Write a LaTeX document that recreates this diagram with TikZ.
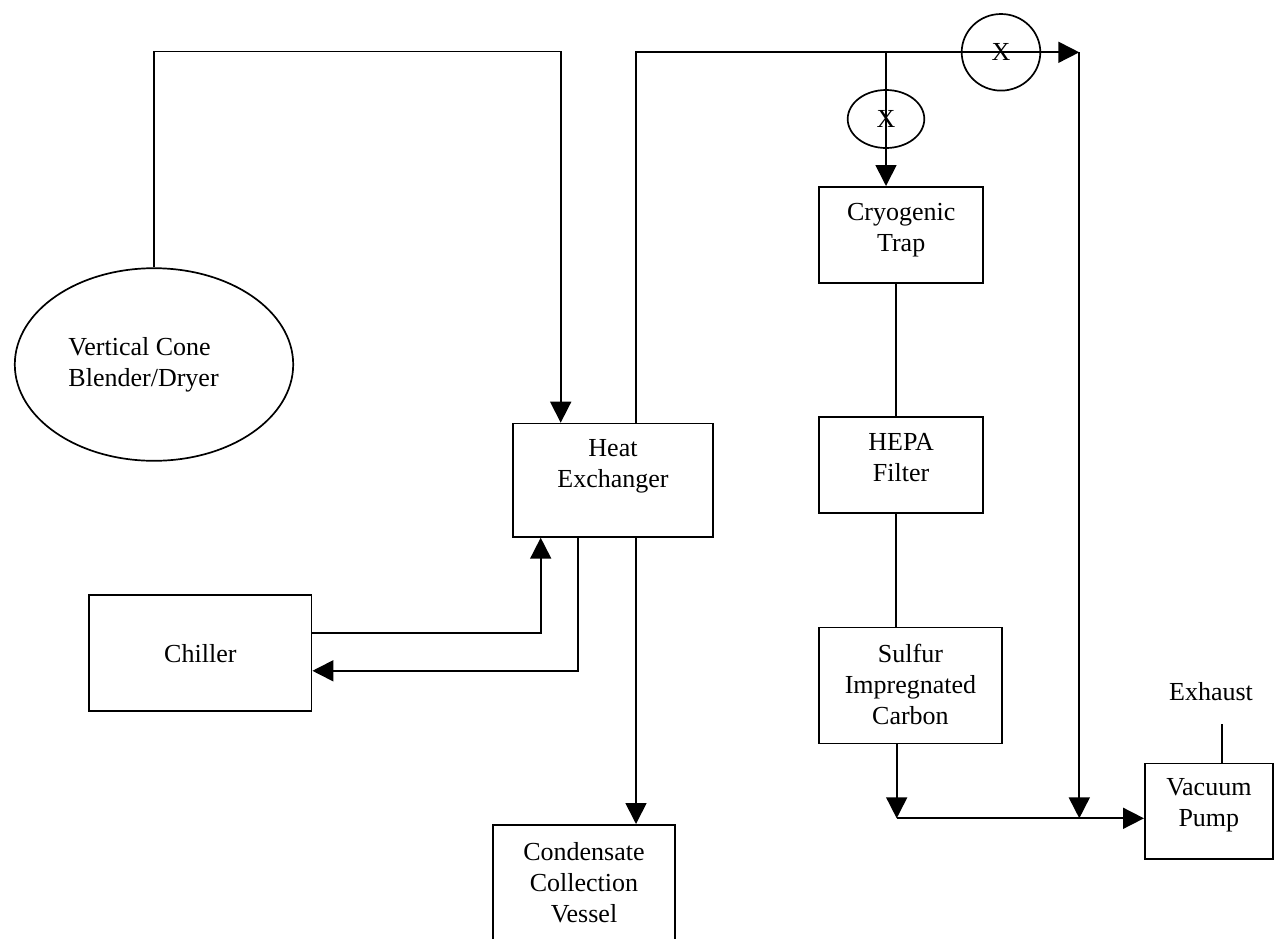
\documentclass[tikz,border=0pt]{standalone}
\usepackage{fontspec}
\setmainfont{Liberation Serif}
\usetikzlibrary{arrows.meta,shapes.geometric}
\begin{document}
\begin{tikzpicture}[x=0.5pt,y=-0.5pt,line width=0.85pt,
  font=\fontsize{13}{15.5}\selectfont,
  >={Triangle[length=10.5pt,width=10.5pt]},
  unit/.style={draw,inner sep=0pt,anchor=north west,align=center},
  valve/.style={draw,ellipse,inner sep=0pt}]% px grid, y down
\useasboundingbox (0,0) rectangle (1275,938);
\node[draw,ellipse,inner sep=0pt,align=flush left,text width=85.5pt,minimum width=139.2pt,minimum height=96.3pt]
  (blender) at (154,364.5) {Vertical Cone\\Blender/Dryer};
\node[unit,text width=100.15pt,text height=16.65pt,text depth=40pt] (hx) at (512,422.7) {Heat\\Exchanger};
\node[unit,text width=111.2pt,text height=33.7pt,text depth=24.15pt] (chiller) at (88.3,594.3) {Chiller};
\node[unit,text width=91.15pt,text height=18pt,text depth=50pt] (cond) at (492,824) {Condensate\\Collection\\Vessel};
\node[unit,text width=82pt,text height=17pt,text depth=31.15pt] (cryo) at (818.3,186) {Cryogenic\\Trap};
\node[unit,text width=82pt,text height=17pt,text depth=31.15pt] (hepa) at (818.3,416) {HEPA\\Filter};
\node[unit,text width=91.3pt,text height=17.5pt,text depth=40.5pt] (carbon) at (818.3,626.7) {Sulfur\\Impregnated\\Carbon};
\node[unit,text width=64pt,text height=16.15pt,text depth=31.65pt] (pump) at (1144,762.7) {Vacuum\\Pump};
\node[inner ysep=11pt,anchor=south] (exhaust) at (1211,724) {Exhaust};
\coordinate (bypass) at (1079.3,52.3);
\coordinate (joinA) at (896.7,818.3);
% vapour line
\draw[->] (blender.north) -- ++(0,-215.9) -| ([xshift=24.35pt]hx.north west);
\draw[->] ([xshift=61.85pt]hx.north west) |- (bypass);
\draw[->] (886,52.3) coordinate (tap) -- (tap |- cryo.north);
\draw ([xshift=38.85pt]cryo.south west) coordinate (c1) -- (c1 |- hepa.north);
\draw ([xshift=38.85pt]hepa.south west) coordinate (c2) -- (c2 |- carbon.north);
\draw[->] ([xshift=39.2pt]carbon.south west) -- (joinA);
\draw[->] (joinA) -- (joinA -| pump.west);
\draw[->] (bypass) -- (bypass |- joinA);
\draw ([xshift=39pt]pump.north west) coordinate (vent) -- (vent |- exhaust.south);
% coolant and condensate
\draw[->] ([yshift=10.1pt]chiller.east) -| ([xshift=14.35pt]hx.south west);
\draw[->] ([xshift=32.85pt]hx.south west) |- ([yshift=-8.9pt]chiller.east);
\draw[->] ([xshift=62pt]hx.south west) coordinate (drain) -- (drain |- cond.north);
% valves
\node[valve,minimum width=38.3pt,minimum height=29pt] (v1) at (886,119) {X};
\node[valve,minimum width=39.3pt,minimum height=38.3pt] (v2) at (1001,52.3) {X};
\end{tikzpicture}
\end{document}
